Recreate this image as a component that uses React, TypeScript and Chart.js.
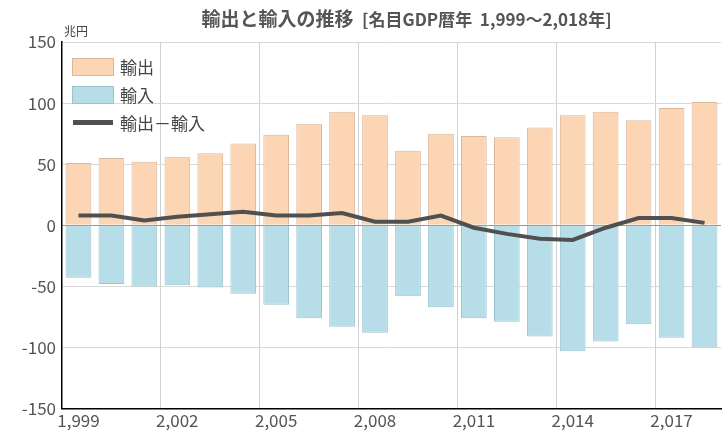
import React, { useEffect, useRef } from "react";
import { Chart, registerables } from "chart.js";
Chart.register(...registerables);

const years = ["1,999","2,000","2,001","2,002","2,003","2,004","2,005","2,006","2,007","2,008","2,009","2,010","2,011","2,012","2,013","2,014","2,015","2,016","2,017","2,018"];
const exportsData = [51, 55, 52, 56, 59, 67, 74, 83, 93, 90, 61, 75, 73, 72, 80, 90, 93, 86, 96, 101];
const importsData = [-43, -48, -50, -49, -51, -56, -65, -76, -83, -88, -58, -67, -76, -79, -91, -103, -95, -81, -92, -100];
const netData = [8, 8, 4, 7, 9, 11, 8, 8, 10, 3, 3, 8, -2, -7, -11, -12, -2, 6, 6, 2];

const FONT = "'Noto Sans CJK JP', 'Noto Sans', sans-serif";

export default function App() {
  const ref = useRef<HTMLCanvasElement>(null);
  useEffect(() => {
    document.body.style.margin = "0";
    const chart = new Chart(ref.current!, {
      data: {
        labels: years,
        datasets: [
          { type: "line", label: "輸出－輸入", data: netData, borderColor: "#505050", borderWidth: 4, pointRadius: 0, tension: 0, order: 0 },
          { type: "bar", label: "輸出", data: exportsData, backgroundColor: "#FCD5B5", borderColor: "#D9B89C", borderWidth: 1, categoryPercentage: 0.78, barPercentage: 1, order: 1 },
          { type: "bar", label: "輸入", data: importsData, backgroundColor: "#B7DEE8", borderColor: "#9CC4CE", borderWidth: 1, categoryPercentage: 0.78, barPercentage: 1, order: 1 },
        ],
      } as any,
      options: {
        animation: false,
        responsive: false,
        layout: { padding: { top: 42, right: 2, left: 0, bottom: 0 } },
        plugins: { legend: { display: false }, tooltip: { enabled: false } },
        scales: {
          x: {
            stacked: true,
            offset: true,
            grid: { offset: true, color: (c: any) => (c.index % 3 === 0 ? "#d0d0d0" : "transparent"), drawTicks: false },
            border: { color: "#000", width: 1.5 },
            ticks: { autoSkip: false, maxRotation: 0, color: "#555", font: { family: FONT, size: 17 }, padding: 2,
              callback: (_v: any, i: number) => (i % 3 === 0 ? years[i] : "") },
          },
          y: {
            stacked: false,
            min: -150, max: 150,
            ticks: { stepSize: 50, color: "#555", font: { family: FONT, size: 17 }, padding: 6 },
            grid: { color: (c: any) => (c.tick && c.tick.value === 0 ? "#999" : "#d9d9d9"), drawTicks: false },
            border: { color: "#000", width: 1.5 },
            afterFit: (s: any) => { s.width = 62; },
          },
        },
      },
    });
    return () => chart.destroy();
  }, []);
  const leg = (top: number, sw: React.ReactNode, text: string) => (
    <div style={{ position: "absolute", left: 72, top, display: "flex", alignItems: "center", fontFamily: FONT, fontSize: 17, color: "#444" }}>
      <div style={{ width: 42, display: "flex", justifyContent: "center", marginRight: 6 }}>{sw}</div>{text}
    </div>
  );
  return (
    <div style={{ position: "relative", width: 723, height: 444, background: "#fff" }}>
      <canvas ref={ref} width={723} height={433} />
      <div style={{ position: "absolute", left: 0, width: 723, top: 4, textAlign: "center", fontFamily: FONT, fontWeight: "bold", fontSize: 19, color: "#555", paddingLeft: 90, boxSizing: "border-box", whiteSpace: "pre" }}>
        輸出と輸入の推移  <span style={{ fontSize: 17 }}>[名目GDP暦年  1,999～2,018年]</span>
      </div>
      <div style={{ position: "absolute", left: 64, top: 22, fontFamily: FONT, fontSize: 12, color: "#444" }}>兆円</div>
      {leg(54, <div style={{ width: 40, height: 16, background: "#FCD5B5", border: "1px solid #D9B89C" }} />, "輸出")}
      {leg(82, <div style={{ width: 40, height: 16, background: "#B7DEE8", border: "1px solid #9CC4CE" }} />, "輸入")}
      {leg(110, <div style={{ width: 40, height: 5, background: "#505050" }} />, "輸出－輸入")}
    </div>
  );
}
